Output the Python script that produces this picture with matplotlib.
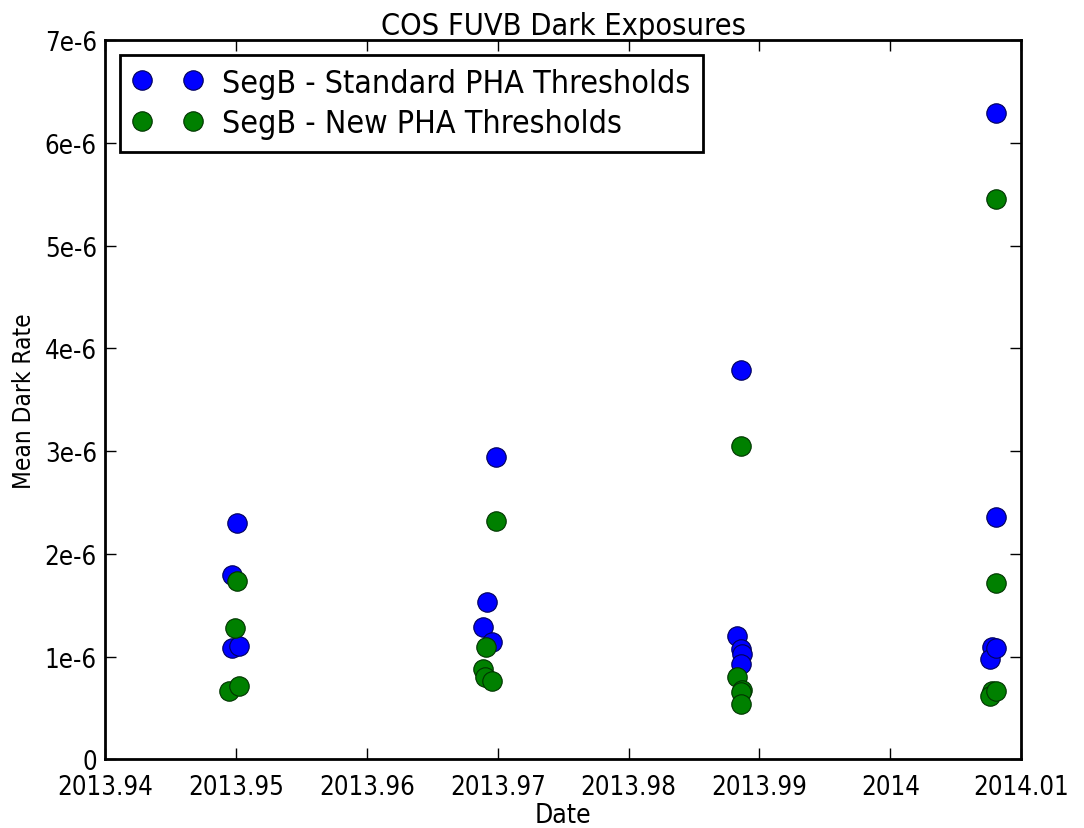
import matplotlib
matplotlib.use("Agg")
import matplotlib.pyplot as plt
from matplotlib.ticker import FuncFormatter, MultipleLocator
from matplotlib import font_manager

# Standard PHA thresholds (blue)
std_dates = [2013.9501, 2013.9497, 2013.9497, 2013.9502,
             2013.9699, 2013.9692, 2013.9689, 2013.9696,
             2013.9886, 2013.9883, 2013.9886, 2013.9887, 2013.9886,
             2014.0081, 2014.0081, 2014.0078, 2014.0076, 2014.0081]
std_rates = [2.30e-6, 1.79e-6, 1.08e-6, 1.10e-6,
             2.94e-6, 1.53e-6, 1.29e-6, 1.14e-6,
             3.79e-6, 1.20e-6, 1.07e-6, 1.02e-6, 0.93e-6,
             6.29e-6, 2.36e-6, 1.09e-6, 0.98e-6, 1.08e-6]

# New PHA thresholds (green)
new_dates = [2013.9501, 2013.9499, 2013.9495, 2013.9502,
             2013.9699, 2013.9691, 2013.9689, 2013.9690, 2013.9696,
             2013.9886, 2013.9883, 2013.9887, 2013.9886, 2013.9886,
             2014.0081, 2014.0081, 2014.0078, 2014.0076, 2014.0081]
new_rates = [1.74e-6, 1.28e-6, 0.66e-6, 0.71e-6,
             2.32e-6, 1.09e-6, 0.88e-6, 0.80e-6, 0.76e-6,
             3.05e-6, 0.80e-6, 0.67e-6, 0.65e-6, 0.54e-6,
             5.46e-6, 1.72e-6, 0.66e-6, 0.62e-6, 0.66e-6]

title = "COS FUVB Dark Exposures"
xlabel = "Date"
ylabel = "Mean Dark Rate"
labels = ["SegB - Standard PHA Thresholds", "SegB - New PHA Thresholds"]

# Prefer condensed DejaVu if available
condensed = any('Condensed' in f.fname and 'DejaVuSans' in f.fname.replace(' ', '')
                for f in font_manager.fontManager.ttflist)
plt.rcParams['font.family'] = ['DejaVu Sans']
plt.rcParams['font.stretch'] = 'condensed' if condensed else 'normal'
k = 1.0 if condensed else 0.9

fig = plt.figure(figsize=(10.84, 8.29), dpi=100, facecolor='white')
ax = fig.add_axes([0.097, 0.083, 0.845, 0.867])

ax.plot(std_dates, std_rates, 'o', color=(0, 0, 1), markeredgecolor=(0, 0, 0.35),
        markersize=14, markeredgewidth=0.8, label=labels[0])
ax.plot(new_dates, new_rates, 'o', color=(0, 0.5, 0), markeredgecolor=(0, 0.2, 0),
        markersize=14, markeredgewidth=0.8, label=labels[1])

ax.set_xlim(2013.94, 2014.01)
ax.set_ylim(0, 7e-6)
ax.xaxis.set_major_locator(MultipleLocator(0.01))
ax.yaxis.set_major_locator(MultipleLocator(1e-6))
ax.xaxis.set_major_formatter(FuncFormatter(lambda v, p: f"{round(v, 2):g}"))
ax.yaxis.set_major_formatter(FuncFormatter(
    lambda v, p: "0" if abs(v) < 1e-12 else f"{int(round(v * 1e6))}e-6"))

ax.tick_params(direction='in', top=True, right=True, length=8, width=1,
               labelsize=18.5 * k)
ax.tick_params(axis='x', pad=11)
ax.tick_params(axis='y', pad=6)
for s in ax.spines.values():
    s.set_linewidth(2)

ax.set_title(title, fontsize=22 * k, pad=5)
ax.set_xlabel(xlabel, fontsize=19 * k, labelpad=1)
ax.set_ylabel(ylabel, fontsize=17.5 * k, labelpad=6)

# lift the "0" y tick label a touch so it does not collide with the x tick label
fig.canvas.draw()
for t in ax.yaxis.get_major_ticks():
    if t.label1.get_text() == "0":
        t.label1.set_verticalalignment('center_baseline')

leg = ax.legend(loc='upper left', numpoints=2, fontsize=23 * k, frameon=True,
                fancybox=False, borderaxespad=0.45, handletextpad=0.6,
                handlelength=2.2, borderpad=0.4, labelspacing=0.3,
                framealpha=1)
leg.get_frame().set_edgecolor('black')
leg.get_frame().set_linewidth(2)

fig.savefig("out.png", dpi=100, facecolor='white')
